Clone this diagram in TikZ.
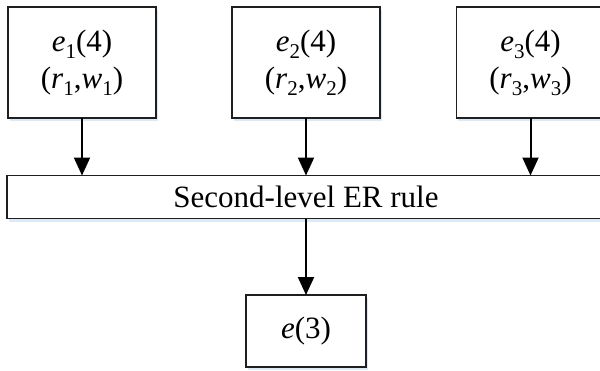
\documentclass[tikz,border=0pt]{standalone}
\usepackage{fontspec}
\setmainfont{Liberation Serif}
\usetikzlibrary{arrows.meta,shadows}
\definecolor{shadowblue}{RGB}{200,218,240}
\newcommand\sbx[1]{\raisebox{-0.22em}{\fontsize{21}{21}\selectfont #1}}
\tikzset{
  boxstyle/.style={draw=black!88, line width=1.3pt, fill=white, inner sep=0pt, outer sep=0pt,
    align=center, font=\fontsize{31}{37}\selectfont,
    drop shadow={shadow xshift=1.5pt, shadow yshift=-3pt, fill=shadowblue, opacity=0.6}},
  arr/.style={draw=black, line width=2pt, -{Triangle[length=18pt,width=16pt]}}
}
\begin{document}
\begin{tikzpicture}[x=1pt,y=-1pt]
\useasboundingbox (0,0) rectangle (600,370);
\node[boxstyle, minimum width=148pt, minimum height=111pt] (b1) at (82,62.5)
  {\textit{e}\sbx{1}(4)\\(\textit{r}\sbx{1},\textit{w}\sbx{1})};
\node[boxstyle, minimum width=148pt, minimum height=111pt] (b2) at (306,62.5)
  {\textit{e}\sbx{2}(4)\\(\textit{r}\sbx{2},\textit{w}\sbx{2})};
\node[boxstyle, minimum width=148pt, minimum height=111pt] (b3) at (530.5,62.5)
  {\textit{e}\sbx{3}(4)\\(\textit{r}\sbx{3},\textit{w}\sbx{3})};
\node[boxstyle, minimum width=598pt, minimum height=43pt] (bar) at (306,197)
  {Second-level ER rule};
\node[boxstyle, minimum width=120pt, minimum height=72pt] (out) at (306,331)
  {\textit{e}(3)};
\draw[arr] (b1.south) -- (b1.south |- bar.north);
\draw[arr] (b2.south) -- (b2.south |- bar.north);
\draw[arr] (b3.south) -- (b3.south |- bar.north);
\draw[arr] (bar.south) -- (out.north);
\end{tikzpicture}
\end{document}
